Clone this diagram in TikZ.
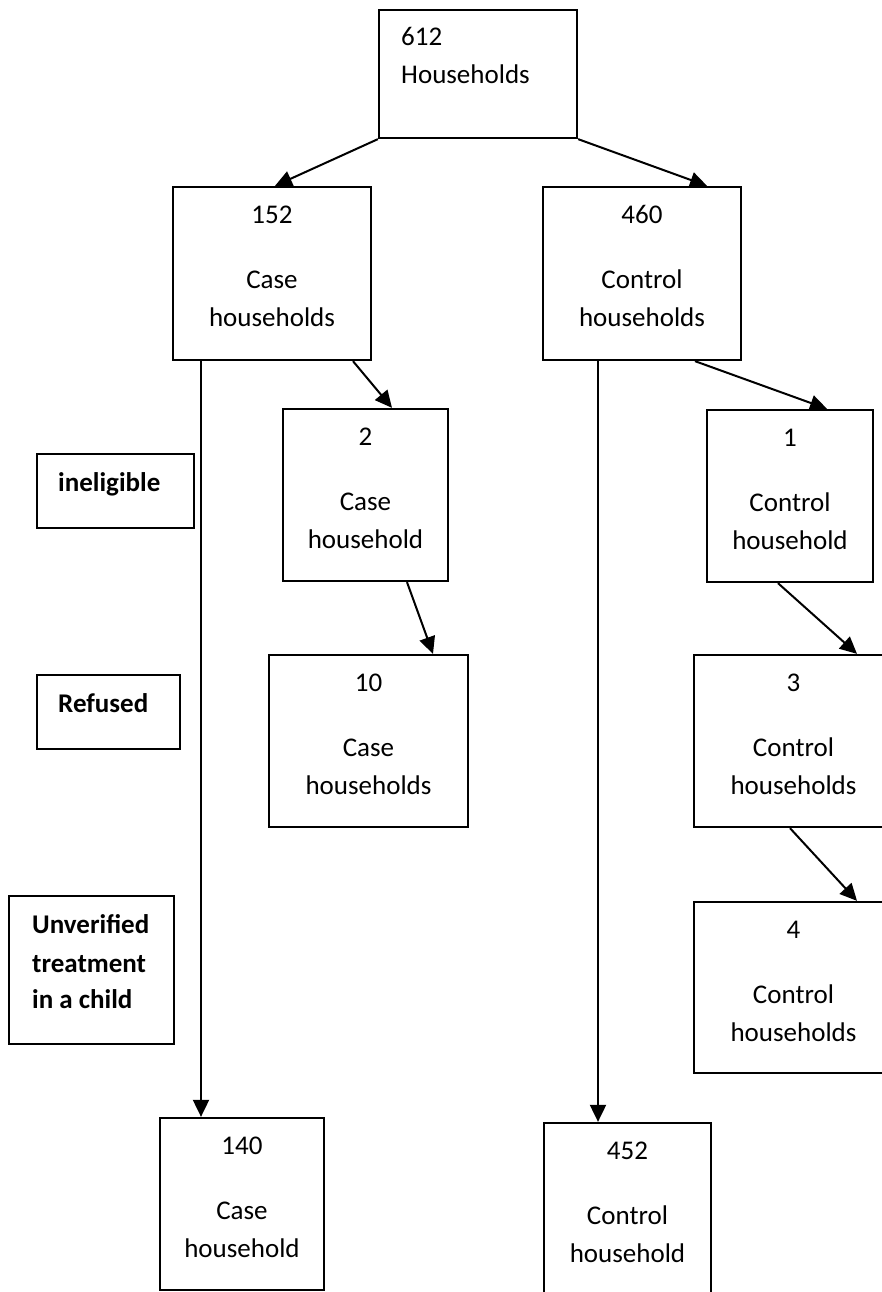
\documentclass[tikz,border=0pt]{standalone}
\usepackage{fontspec}
\setmainfont{Carlito}
\usetikzlibrary{arrows.meta}
\begin{document}
\begin{tikzpicture}[x=1pt,y=-1pt,
  box/.style={draw=black,line width=2.3pt,inner sep=0pt,fill=none},
  txt/.style={inner sep=0pt,font=\fontsize{27pt}{33pt}\selectfont,anchor=base},
  btxt/.style={inner sep=0pt,font=\fontsize{27pt}{33pt}\selectfont\bfseries,anchor=base west},
  arr/.style={line width=2pt,-{Triangle[length=17pt,width=16pt]}},
  ln/.style={line width=2pt}]
\useasboundingbox (0,0) rectangle (882,1292);
% boxes
\node[box,minimum width=198pt,minimum height=128pt] (top) at (478,74) {};
\node[box,minimum width=198pt,minimum height=173pt] (b152) at (272,273.5) {};
\node[box,minimum width=198pt,minimum height=173pt] (b460) at (642,273.5) {};
\node[box,minimum width=165pt,minimum height=172pt] (b2) at (365.5,495) {};
\node[box,minimum width=166pt,minimum height=172pt] (b1) at (790,496) {};
\node[box,minimum width=199pt,minimum height=172pt] (b10) at (368.5,741) {};
\node[box,minimum width=199pt,minimum height=172pt] (b3) at (793.5,741) {};
\node[box,minimum width=199pt,minimum height=171pt] (b4) at (793.5,987.5) {};
\node[box,minimum width=164pt,minimum height=172pt] (b140) at (242,1204) {};
\node[box,minimum width=167pt,minimum height=172pt] (b452) at (627.5,1209) {};
\node[box,minimum width=157pt,minimum height=74pt] (inel) at (115.5,491) {};
\node[box,minimum width=143pt,minimum height=74pt] (refu) at (108.5,712) {};
\node[box,minimum width=165pt,minimum height=148pt] (unver) at (91.5,970) {};
% texts
\node[txt,anchor=base west] (t612) at (401,46) {612};
\node[txt,anchor=base west] (t612b) at (401,84) {Households};
\foreach \b/\n/\la/\lb in {b152/152/Case/households, b460/460/Control/households,
  b2/2/Case/household, b1/1/Control/household, b10/10/Case/households,
  b3/3/Control/households, b4/4/Control/households, b140/140/Case/household,
  b452/452/Control/household}{
  \node[txt] (\b n) at ([yshift=-38pt]\b.north) {\n};
  \node[txt] (\b a) at ([yshift=-103pt]\b.north) {\la};
  \node[txt] (\b b) at ([yshift=-141pt]\b.north) {\lb};
}
\node[btxt] (tinel) at (58,491) {ineligible};
\node[btxt] (trefu) at (58,712) {Refused};
\node[btxt] (tun1) at (32,933) {Unverified};
\node[btxt] (tun2) at (32,972) {treatment};
\node[btxt] (tun3) at (32,1008) {in a child};
% connectors
\draw[arr] (top.south west) -- ([xshift=3pt]b152.north);
\draw[arr] (top.south east) -- ([xshift=65pt]b460.north);
\draw[arr] ([xshift=-71pt]b152.south) -- ([xshift=-41pt]b140.north);
\draw[arr] ([xshift=-44pt]b460.south) -- ([xshift=-29.5pt]b452.north);
\draw[arr] ([xshift=81pt]b152.south) -- ([xshift=26.5pt]b2.north);
\draw[arr] ([xshift=53pt]b460.south) -- ([xshift=37pt]b1.north);
\draw[arr] ([xshift=41.5pt]b2.south) -- ([xshift=64.5pt]b10.north);
\draw[arr] ([xshift=-12pt]b1.south) -- ([xshift=63.5pt]b3.north);
\draw[arr] ([xshift=-3.5pt]b3.south) -- ([xshift=63.5pt]b4.north);
\end{tikzpicture}
\end{document}
